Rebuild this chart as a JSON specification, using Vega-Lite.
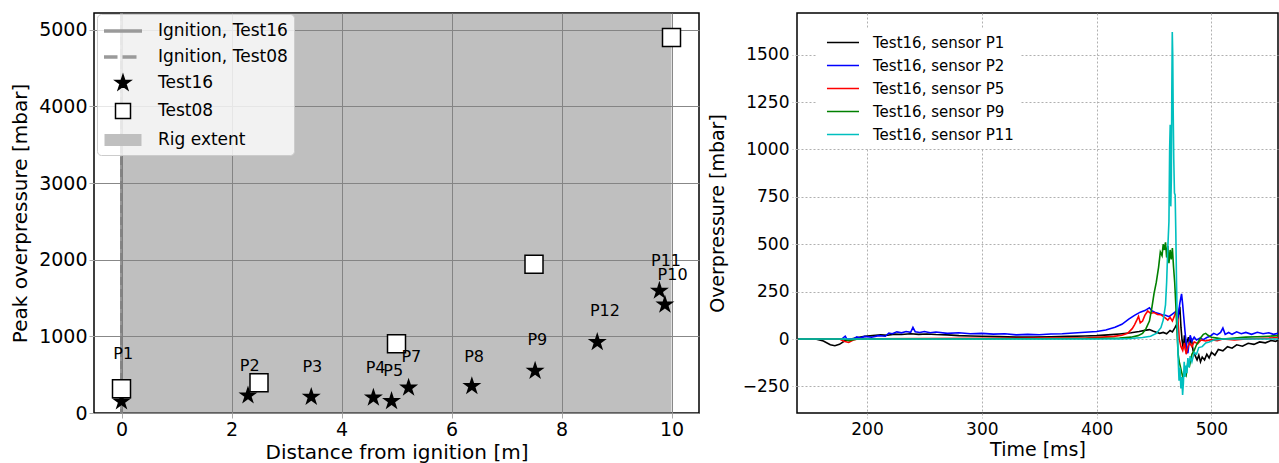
{
  "$schema": "https://vega.github.io/schema/vega-lite/v6.json",
  "padding": {"left": 9, "top": 10, "right": 0, "bottom": 3},
  "bounds": "flush",
  "spacing": 98,
  "config": {
    "font": "DejaVu Sans",
    "view": {"stroke": "black", "strokeWidth": 1.5},
    "axis": {"labelColor": "black", "titleColor": "black", "titleFontWeight": "normal", "domain": false, "labelFont": "DejaVu Sans", "titleFont": "DejaVu Sans"},
    "legend": {"labelColor": "black", "labelFont": "DejaVu Sans"}
  },
  "datasets": {
    "p1": [{"t":140,"v":0},{"t":155,"v":0},{"t":162,"v":-10},{"t":168,"v":-30},{"t":172,"v":-35},{"t":176,"v":-28},{"t":181,"v":-8},{"t":186,"v":0},{"t":192,"v":8},{"t":198,"v":14},{"t":205,"v":18},{"t":212,"v":22},{"t":218,"v":20},{"t":224,"v":26},{"t":230,"v":24},{"t":238,"v":28},{"t":245,"v":25},{"t":252,"v":27},{"t":260,"v":24},{"t":270,"v":22},{"t":280,"v":18},{"t":290,"v":16},{"t":300,"v":15},{"t":315,"v":13},{"t":330,"v":10},{"t":345,"v":10},{"t":360,"v":12},{"t":375,"v":14},{"t":390,"v":16},{"t":400,"v":18},{"t":410,"v":22},{"t":420,"v":27},{"t":430,"v":33},{"t":437,"v":40},{"t":442,"v":46},{"t":446,"v":50},{"t":449,"v":42},{"t":452,"v":36},{"t":455,"v":30},{"t":458,"v":35},{"t":461,"v":28},{"t":464,"v":45},{"t":466,"v":38},{"t":468,"v":58},{"t":470,"v":80},{"t":471.5,"v":140},{"t":472.5,"v":170},{"t":473.5,"v":60},{"t":474.5,"v":-10},{"t":475.5,"v":-50},{"t":476.5,"v":20},{"t":477.5,"v":-60},{"t":478.5,"v":-20},{"t":480,"v":10},{"t":481,"v":-30},{"t":482.5,"v":5},{"t":484,"v":-60},{"t":486,"v":-90},{"t":487.5,"v":-110},{"t":489,"v":-85},{"t":490.5,"v":-120},{"t":492,"v":-95},{"t":494,"v":-110},{"t":496,"v":-80},{"t":498,"v":-100},{"t":500,"v":-70},{"t":503,"v":-85},{"t":506,"v":-55},{"t":510,"v":-62},{"t":514,"v":-40},{"t":518,"v":-48},{"t":522,"v":-30},{"t":527,"v":-38},{"t":532,"v":-22},{"t":537,"v":-28},{"t":542,"v":-15},{"t":547,"v":-20},{"t":552,"v":-8},{"t":556,"v":-12},{"t":558,"v":-5}],
    "p2": [{"t":140,"v":0},{"t":178,"v":0},{"t":181,"v":15},{"t":182.5,"v":0},{"t":188,"v":0},{"t":191,"v":12},{"t":194,"v":5},{"t":198,"v":14},{"t":204,"v":10},{"t":210,"v":18},{"t":216,"v":15},{"t":219,"v":32},{"t":222,"v":28},{"t":226,"v":38},{"t":230,"v":33},{"t":234,"v":40},{"t":238,"v":36},{"t":240,"v":62},{"t":242,"v":38},{"t":246,"v":35},{"t":250,"v":40},{"t":255,"v":33},{"t":260,"v":37},{"t":270,"v":30},{"t":280,"v":33},{"t":290,"v":28},{"t":300,"v":30},{"t":310,"v":26},{"t":320,"v":28},{"t":330,"v":22},{"t":340,"v":25},{"t":350,"v":23},{"t":360,"v":27},{"t":370,"v":28},{"t":380,"v":32},{"t":390,"v":36},{"t":400,"v":40},{"t":408,"v":48},{"t":416,"v":62},{"t":422,"v":78},{"t":428,"v":105},{"t":433,"v":125},{"t":438,"v":142},{"t":442,"v":150},{"t":446,"v":165},{"t":448,"v":150},{"t":451,"v":140},{"t":454,"v":135},{"t":457,"v":128},{"t":460,"v":126},{"t":463,"v":118},{"t":466,"v":132},{"t":469,"v":145},{"t":471,"v":120},{"t":472.5,"v":190},{"t":474,"v":238},{"t":475,"v":180},{"t":476,"v":110},{"t":477,"v":40},{"t":478.5,"v":-50},{"t":479.5,"v":-75},{"t":480.5,"v":-20},{"t":481.5,"v":20},{"t":483,"v":-10},{"t":485,"v":10},{"t":487,"v":-5},{"t":490,"v":5},{"t":493,"v":-3},{"t":496,"v":8},{"t":499,"v":15},{"t":502,"v":30},{"t":505,"v":22},{"t":508,"v":35},{"t":510,"v":58},{"t":512,"v":25},{"t":515,"v":35},{"t":518,"v":25},{"t":522,"v":38},{"t":526,"v":28},{"t":530,"v":35},{"t":535,"v":25},{"t":540,"v":36},{"t":545,"v":28},{"t":550,"v":33},{"t":554,"v":25},{"t":558,"v":30}],
    "p5": [{"t":140,"v":0},{"t":176,"v":0},{"t":180,"v":-12},{"t":184,"v":-18},{"t":188,"v":-5},{"t":192,"v":0},{"t":200,"v":2},{"t":250,"v":3},{"t":300,"v":4},{"t":350,"v":5},{"t":390,"v":6},{"t":405,"v":10},{"t":415,"v":14},{"t":422,"v":20},{"t":427,"v":30},{"t":431,"v":55},{"t":433,"v":75},{"t":435,"v":100},{"t":436.5,"v":120},{"t":438,"v":85},{"t":440,"v":95},{"t":442,"v":125},{"t":444.5,"v":148},{"t":447,"v":135},{"t":450,"v":140},{"t":453,"v":130},{"t":456,"v":128},{"t":458,"v":120},{"t":460,"v":110},{"t":462,"v":100},{"t":464,"v":115},{"t":466,"v":95},{"t":468,"v":125},{"t":469.5,"v":148},{"t":471,"v":90},{"t":472,"v":0},{"t":473.5,"v":-40},{"t":475,"v":-60},{"t":476.5,"v":-20},{"t":478,"v":-80},{"t":479.5,"v":-40},{"t":481,"v":-20},{"t":483,"v":-40},{"t":485,"v":-15},{"t":488,"v":-25},{"t":491,"v":-5},{"t":495,"v":-10},{"t":500,"v":-3},{"t":505,"v":-8},{"t":510,"v":0},{"t":520,"v":-5},{"t":530,"v":0},{"t":540,"v":3},{"t":550,"v":5},{"t":558,"v":8}],
    "p9": [{"t":140,"v":0},{"t":180,"v":0},{"t":184,"v":-8},{"t":188,"v":-3},{"t":192,"v":0},{"t":250,"v":0},{"t":300,"v":1},{"t":350,"v":2},{"t":400,"v":3},{"t":420,"v":6},{"t":430,"v":10},{"t":436,"v":18},{"t":440,"v":30},{"t":443,"v":55},{"t":446,"v":95},{"t":448,"v":160},{"t":450,"v":240},{"t":452,"v":300},{"t":454,"v":380},{"t":455.5,"v":460},{"t":457,"v":440},{"t":458,"v":500},{"t":459,"v":470},{"t":460,"v":510},{"t":461,"v":430},{"t":462,"v":490},{"t":463,"v":400},{"t":464,"v":470},{"t":465,"v":420},{"t":466,"v":480},{"t":467,"v":380},{"t":468,"v":300},{"t":469,"v":180},{"t":470,"v":40},{"t":471,"v":-80},{"t":472,"v":-120},{"t":473.5,"v":-160},{"t":475,"v":-200},{"t":476.5,"v":-170},{"t":478,"v":-190},{"t":479.5,"v":-120},{"t":481,"v":-140},{"t":483,"v":-80},{"t":485,"v":-60},{"t":487,"v":-30},{"t":489,"v":-10},{"t":491,"v":10},{"t":493,"v":25},{"t":495,"v":30},{"t":497,"v":20},{"t":500,"v":10},{"t":505,"v":5},{"t":510,"v":0},{"t":520,"v":5},{"t":530,"v":10},{"t":540,"v":12},{"t":550,"v":15},{"t":558,"v":18}],
    "p11": [{"t":140,"v":0},{"t":400,"v":0},{"t":420,"v":1},{"t":430,"v":3},{"t":440,"v":8},{"t":447,"v":15},{"t":452,"v":30},{"t":456,"v":60},{"t":458,"v":100},{"t":460,"v":180},{"t":461,"v":300},{"t":462,"v":480},{"t":463,"v":620},{"t":463.6,"v":1000},{"t":464.1,"v":1130},{"t":464.6,"v":700},{"t":465.1,"v":850},{"t":465.5,"v":1300},{"t":465.9,"v":1620},{"t":466.3,"v":1500},{"t":466.7,"v":1200},{"t":467.2,"v":950},{"t":467.8,"v":770},{"t":468.4,"v":760},{"t":469,"v":560},{"t":469.6,"v":300},{"t":470.2,"v":100},{"t":471,"v":-100},{"t":471.8,"v":-220},{"t":472.6,"v":-150},{"t":473.4,"v":-260},{"t":474.2,"v":-200},{"t":474.9,"v":-295},{"t":475.6,"v":-230},{"t":476.3,"v":-120},{"t":477,"v":-200},{"t":477.8,"v":-140},{"t":478.6,"v":-180},{"t":479.5,"v":-100},{"t":480.5,"v":-150},{"t":481.5,"v":-90},{"t":483,"v":-120},{"t":485,"v":-70},{"t":487,"v":-80},{"t":489,"v":-45},{"t":492,"v":-40},{"t":495,"v":-20},{"t":498,"v":-15},{"t":502,"v":-5},{"t":510,"v":0},{"t":558,"v":0}]
  },
  "hconcat": [
    {
      "width": 605,
      "height": 400,
      "layer": [
        {
          "data": {"values": [{"d": 0, "d2": 10}]},
          "mark": {"type": "rect", "color": "#808080", "opacity": 0.5},
          "encoding": {
            "x": {"field": "d", "type": "quantitative", "scale": {"domain": [-0.5, 10.5], "nice": false, "zero": false},
                  "axis": {"values": [0, 2, 4, 6, 8, 10], "format": "d", "title": "Distance from ignition [m]", "labelFontSize": 19, "titleFontSize": 20, "grid": true, "gridColor": "#888888", "tickSize": 5, "tickColor": "#aaaaaa", "labelPadding": 2, "titlePadding": 3}},
            "x2": {"field": "d2"}
          }
        },
        {
          "data": {"values": [{"d": 0}]},
          "mark": {"type": "rule", "color": "#808080", "strokeWidth": 3, "opacity": 0.8},
          "encoding": {"x": {"field": "d", "type": "quantitative", "scale": {"domain": [-0.5, 10.5], "nice": false, "zero": false}}}
        },
        {
          "data": {"values": [{"d": 0}]},
          "mark": {"type": "rule", "color": "#808080", "strokeWidth": 3, "opacity": 0.8, "strokeDash": [8, 4]},
          "encoding": {"x": {"field": "d", "type": "quantitative", "scale": {"domain": [-0.5, 10.5], "nice": false, "zero": false}}}
        },
        {
          "data": {"values": [
            {"d": 0.0, "p": 150},
            {"d": 2.3, "p": 228},
            {"d": 3.45, "p": 210},
            {"d": 4.58, "p": 200},
            {"d": 4.91, "p": 155},
            {"d": 5.22, "p": 330},
            {"d": 6.37, "p": 350},
            {"d": 7.52, "p": 550},
            {"d": 8.65, "p": 925},
            {"d": 9.78, "p": 1595},
            {"d": 9.88, "p": 1415}
          ]},
          "mark": {"type": "point", "shape": "M0,-0.5L0.1123,-0.1545L0.4755,-0.1545L0.1817,0.059L0.2939,0.4045L0,0.191L-0.2939,0.4045L-0.1817,0.059L-0.4755,-0.1545L-0.1123,-0.1545Z", "size": 1600, "filled": true, "color": "black", "opacity": 1},
          "encoding": {
            "x": {"field": "d", "type": "quantitative", "scale": {"domain": [-0.5, 10.5], "nice": false, "zero": false}},
            "y": {"field": "p", "type": "quantitative", "scale": {"domain": [0, 5220], "nice": false, "zero": false},
                  "axis": {"values": [0, 1000, 2000, 3000, 4000, 5000], "format": "d", "title": "Peak overpressure [mbar]", "labelFontSize": 19, "titleFontSize": 20, "grid": true, "gridColor": "#888888", "tickSize": 5, "tickColor": "#aaaaaa", "labelPadding": 2, "titlePadding": 8}}
          }
        },
        {
          "data": {"values": [
            {"d": 0.0, "p": 315},
            {"d": 2.5, "p": 395},
            {"d": 5.0, "p": 905},
            {"d": 7.5, "p": 1940},
            {"d": 10.0, "p": 4900}
          ]},
          "mark": {"type": "point", "shape": "square", "size": 324, "fill": "white", "stroke": "black", "strokeWidth": 1.5, "opacity": 1},
          "encoding": {
            "x": {"field": "d", "type": "quantitative", "scale": {"domain": [-0.5, 10.5], "nice": false, "zero": false}},
            "y": {"field": "p", "type": "quantitative", "scale": {"domain": [0, 5220], "nice": false, "zero": false}}
          }
        },
        {
          "data": {"values": [
            {"series": "Ignition, Test16"},
            {"series": "Ignition, Test08"},
            {"series": "Test16"},
            {"series": "Test08"},
            {"series": "Rig extent"}
          ]},
          "mark": {"type": "point", "opacity": 0, "size": 400, "strokeWidth": 1.5},
          "encoding": {
            "shape": {"field": "series", "type": "nominal",
              "scale": {"domain": ["Ignition, Test16", "Ignition, Test08", "Test16", "Test08", "Rig extent"],
                        "range": ["M-1,-0.18H2.8V0.18H-1Z",
                                  "M-1,-0.18H0.35V0.18H-1Z M0.85,-0.18H2.25V0.18H0.85Z",
                                  "M0.9,-0.8L1.0796,-0.2472L1.6608,-0.2472L1.1907,0.0944L1.3702,0.6472L0.9,0.3056L0.4298,0.6472L0.6093,0.0944L0.1392,-0.2472L0.7204,-0.2472Z",
                                  "M0.15,-0.75H1.65V0.75H0.15Z",
                                  "M-0.95,-0.6H2.75V0.6H-0.95Z"]},
              "legend": {"title": null, "orient": "none", "legendX": 3, "legendY": 1, "symbolSize": 400, "symbolStrokeWidth": 1.5, "symbolOpacity": 1, "labelFontSize": 17, "labelOffset": 33, "padding": 6, "rowPadding": 7, "fillColor": "rgba(255,255,255,0.8)", "strokeColor": "#cccccc", "cornerRadius": 4}},
            "fill": {"field": "series", "type": "nominal",
              "scale": {"domain": ["Ignition, Test16", "Ignition, Test08", "Test16", "Test08", "Rig extent"],
                        "range": ["#9a9a9a", "#9a9a9a", "black", "white", "#bfbfbf"]}},
            "stroke": {"field": "series", "type": "nominal",
              "scale": {"domain": ["Ignition, Test16", "Ignition, Test08", "Test16", "Test08", "Rig extent"],
                        "range": ["transparent", "transparent", "black", "black", "transparent"]}}
          }
        },
        {
          "data": {"values": [
            {"d": 0.03, "p": 770, "label": "P1"},
            {"d": 2.33, "p": 615, "label": "P2"},
            {"d": 3.47, "p": 605, "label": "P3"},
            {"d": 4.62, "p": 592, "label": "P4"},
            {"d": 4.94, "p": 548, "label": "P5"},
            {"d": 5.27, "p": 737, "label": "P7"},
            {"d": 6.41, "p": 737, "label": "P8"},
            {"d": 7.56, "p": 956, "label": "P9"},
            {"d": 8.79, "p": 1325, "label": "P12"},
            {"d": 9.9, "p": 1990, "label": "P11"},
            {"d": 10.02, "p": 1805, "label": "P10"}
          ]},
          "mark": {"type": "text", "fontSize": 16, "font": "DejaVu Sans", "color": "black", "align": "center", "baseline": "middle"},
          "encoding": {
            "x": {"field": "d", "type": "quantitative", "scale": {"domain": [-0.5, 10.5], "nice": false, "zero": false}},
            "y": {"field": "p", "type": "quantitative", "scale": {"domain": [0, 5220], "nice": false, "zero": false}},
            "text": {"field": "label"}
          }
        }
      ]
    },
    {
      "width": 481,
      "height": 400,
      "encoding": {
        "x": {"field": "t", "type": "quantitative", "scale": {"domain": [139, 558], "nice": false, "zero": false},
              "axis": {"values": [200, 300, 400, 500], "format": "d", "title": "Time [ms]", "labelFontSize": 17, "titleFontSize": 19, "grid": true, "gridColor": "#b0b0b0", "gridDash": [2, 2], "tickSize": 5, "tickColor": "#b0b0b0", "tickDash": [2, 2], "labelPadding": 3, "titlePadding": 3}},
        "y": {"field": "v", "type": "quantitative", "scale": {"domain": [-390, 1720], "nice": false, "zero": false},
              "axis": {"values": [-250, 0, 250, 500, 750, 1000, 1250, 1500], "format": "d", "title": "Overpressure [mbar]", "labelFontSize": 17, "titleFontSize": 19, "grid": true, "gridColor": "#b0b0b0", "gridDash": [2, 2], "tickSize": 5, "tickColor": "#b0b0b0", "tickDash": [2, 2], "labelPadding": 3, "titlePadding": 15}}
      },
      "layer": [
        {"data": {"name": "p1"}, "mark": {"type": "line", "strokeWidth": 1.6, "clip": true},
         "encoding": {"color": {"datum": "Test16, sensor P1", "type": "nominal",
           "scale": {"domain": ["Test16, sensor P1", "Test16, sensor P2", "Test16, sensor P5", "Test16, sensor P9", "Test16, sensor P11"],
                     "range": ["black", "#0000ff", "#ff0000", "#008000", "#00bfbf"]},
           "legend": {"title": null, "orient": "none", "legendX": 19, "legendY": 15, "symbolType": "M-0.47,0H3.8", "symbolStrokeWidth": 1.5, "symbolSize": 225, "labelFontSize": 15, "labelOffset": 34, "padding": 6, "rowPadding": 6, "fillColor": "white"}}}},
        {"data": {"name": "p2"}, "mark": {"type": "line", "strokeWidth": 1.6, "clip": true},
         "encoding": {"color": {"datum": "Test16, sensor P2", "type": "nominal"}}},
        {"data": {"name": "p5"}, "mark": {"type": "line", "strokeWidth": 1.6, "clip": true},
         "encoding": {"color": {"datum": "Test16, sensor P5", "type": "nominal"}}},
        {"data": {"name": "p9"}, "mark": {"type": "line", "strokeWidth": 1.6, "clip": true},
         "encoding": {"color": {"datum": "Test16, sensor P9", "type": "nominal"}}},
        {"data": {"name": "p11"}, "mark": {"type": "line", "strokeWidth": 1.6, "clip": true},
         "encoding": {"color": {"datum": "Test16, sensor P11", "type": "nominal"}}}
      ]
    }
  ],
  "resolve": {
    "scale": {"x": "independent", "y": "independent", "color": "independent", "shape": "independent", "fill": "independent", "stroke": "independent"},
    "legend": {"color": "independent", "shape": "independent", "fill": "independent", "stroke": "independent"}
  }
}
